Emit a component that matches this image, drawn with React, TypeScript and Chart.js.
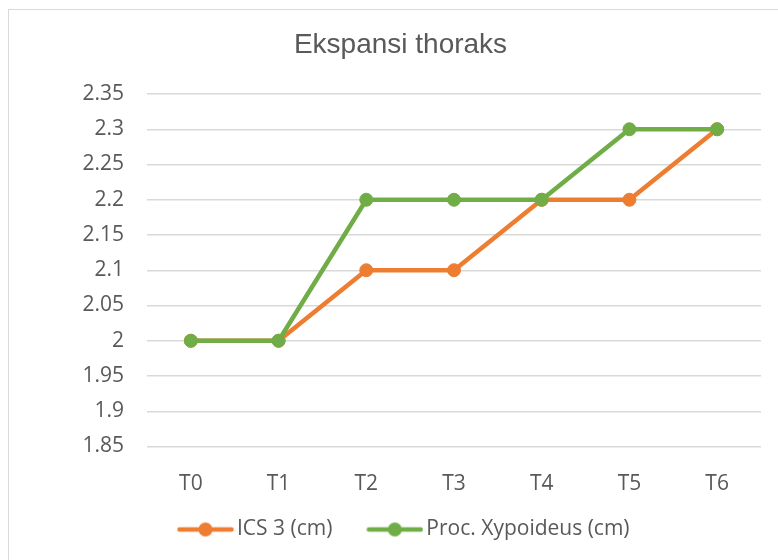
import React, { useEffect, useRef } from "react";
import { Chart, registerables } from "chart.js";

Chart.register(...registerables);

const chartTitle = "Ekspansi thoraks";
const categories = ["T0", "T1", "T2", "T3", "T4", "T5", "T6"];
const seriesNames = ["ICS 3 (cm)", "Proc. Xypoideus (cm)"];
const ics3 = [2, 2, 2.1, 2.1, 2.2, 2.2, 2.3];
const procXypoideus = [2, 2, 2.2, 2.2, 2.2, 2.3, 2.3];
const yMin = 1.85;
const yMax = 2.35;
const yStep = 0.05;

const ORANGE = "#ED7D31";
const GREEN = "#70AD47";
const TEXT = "#595959";
const GRID = "#D9D9D9";
const BODY_FONT = "'Open Sans', 'Noto Sans', sans-serif";
const TITLE_FONT = "'Liberation Sans', Arial, sans-serif";

// legend swatch: a line with a round marker, placed off-centre inside the image
function legendSwatch(color: string): HTMLCanvasElement {
  const c = document.createElement("canvas");
  c.width = 70;
  c.height = 16;
  const ctx = c.getContext("2d")!;
  ctx.strokeStyle = color;
  ctx.lineWidth = 4.5;
  ctx.lineCap = "round";
  ctx.beginPath();
  ctx.moveTo(15.5, 8);
  ctx.lineTo(67.5, 8);
  ctx.stroke();
  ctx.fillStyle = color;
  ctx.beginPath();
  ctx.arc(41.5, 8, 7, 0, Math.PI * 2);
  ctx.fill();
  return c;
}

export default function App() {
  const canvasRef = useRef<HTMLCanvasElement | null>(null);

  useEffect(() => {
    if (!canvasRef.current) return;
    const colors = [ORANGE, GREEN];
    const swatches = colors.map((c) => legendSwatch(c));
    const seriesValues = [ics3, procXypoideus];

    const chart = new Chart(canvasRef.current, {
      type: "line",
      data: {
        labels: categories,
        datasets: seriesValues.map((vals, i) => ({
          label: seriesNames[i],
          data: vals,
          borderColor: colors[i],
          backgroundColor: colors[i],
          borderWidth: 4.5,
          borderJoinStyle: "round" as const,
          borderCapStyle: "round" as const,
          pointRadius: 6.5,
          pointBorderWidth: 1,
          pointBackgroundColor: colors[i],
          pointBorderColor: colors[i],
          fill: false,
          tension: 0,
          order: i === 0 ? 1 : 0,
        })),
      },
      options: {
        responsive: false,
        animation: false,
        devicePixelRatio: 1,
        layout: { padding: { left: 40, right: 17, top: 0, bottom: 10 } },
        plugins: {
          title: {
            display: true,
            text: chartTitle,
            color: TEXT,
            font: { family: TITLE_FONT, size: 28, weight: "normal" },
            padding: { top: 28, bottom: 32.4 },
          },
          legend: {
            position: "bottom",
            labels: {
              usePointStyle: true,
              pointStyleWidth: 55,
              padding: 28.5,
              color: TEXT,
              font: { family: BODY_FONT, size: 21 },
              sort: (a: any, b: any) => a.datasetIndex - b.datasetIndex,
              generateLabels: (ch: any) =>
                Chart.defaults.plugins.legend.labels
                  .generateLabels(ch)
                  .map((l: any) => ({ ...l, pointStyle: swatches[l.datasetIndex] })),
            },
          },
          tooltip: { enabled: false },
        },
        scales: {
          x: {
            type: "category",
            offset: true,
            grid: { display: false },
            border: { display: false },
            ticks: {
              color: TEXT,
              font: { family: BODY_FONT, size: 21 },
              padding: 17,
            },
            afterFit: (s: any) => {
              s.height = 44;
            },
          },
          y: {
            min: yMin,
            max: yMax,
            grid: { color: GRID, lineWidth: 1.5, drawTicks: false },
            border: { display: false },
            ticks: {
              stepSize: yStep,
              padding: 23,
              color: TEXT,
              font: { family: BODY_FONT, size: 21 },
              callback: (v: any) => String(Number(Number(v).toFixed(2))),
            },
            afterFit: (s: any) => {
              s.width = 107;
            },
          },
        },
      } as any,
    });
    return () => chart.destroy();
  }, []);

  return (
    <div
      style={{
        position: "fixed",
        left: 0,
        top: 0,
        width: 778,
        height: 560,
        overflow: "hidden",
        background: "#ffffff",
      }}
    >
      <div
        style={{
          position: "absolute",
          left: 8,
          top: 9,
          width: 820,
          height: 620,
          border: "1.5px solid #D9D9D9",
        }}
      />
      <canvas
        ref={canvasRef}
        width={778}
        height={560}
        style={{ position: "absolute", left: 0, top: 0, display: "block" }}
      />
    </div>
  );
}
